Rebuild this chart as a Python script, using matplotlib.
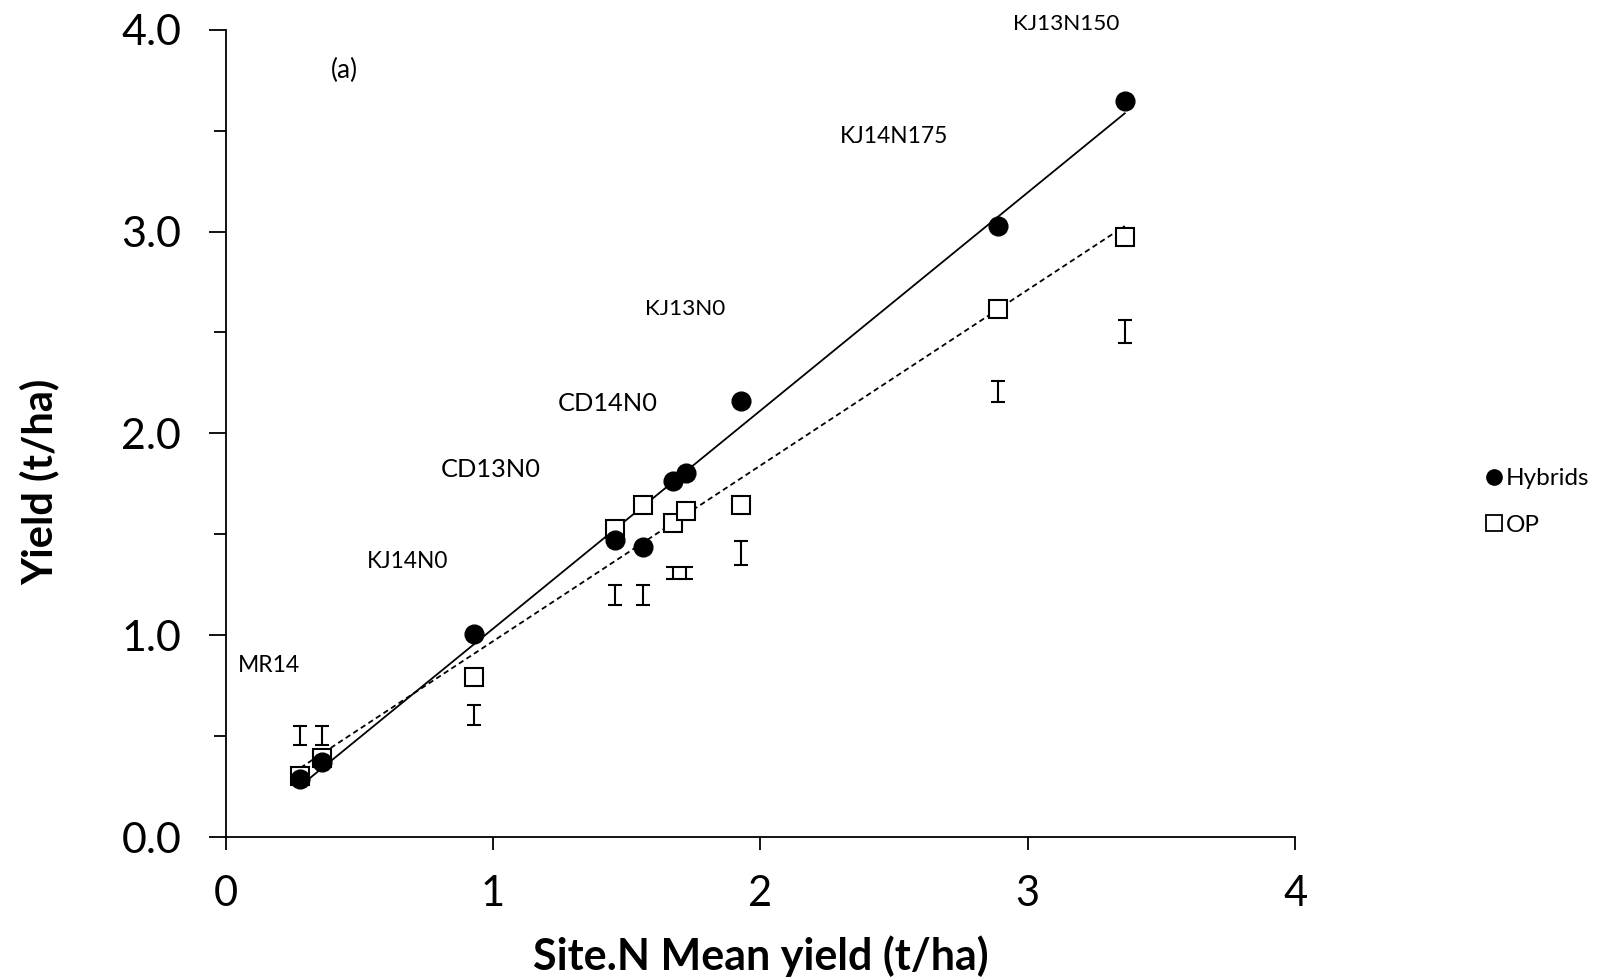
import numpy as np
import matplotlib
matplotlib.use('Agg')
import matplotlib.pyplot as plt
from matplotlib.lines import Line2D

plt.rcParams['font.family'] = ['Lato', 'DejaVu Sans']

# Site.N mean yield (t/ha)
site_mean = [0.28, 0.36, 0.93, 1.457, 1.561, 1.672, 1.722, 1.929, 2.888, 3.363]
hybrids = [0.285, 0.37, 1.006, 1.474, 1.438, 1.764, 1.804, 2.16, 3.029, 3.649]
op = [0.30, 0.39, 0.793, 1.525, 1.647, 1.555, 1.616, 1.647, 2.617, 2.973]

# LSD bars drawn below each site
lsd_centre = [0.503, 0.503, 0.605, 1.20, 1.20, 1.306, 1.306, 1.408, 2.206, 2.506]
lsd_half = [0.046, 0.046, 0.048, 0.05, 0.05, 0.03, 0.03, 0.061, 0.053, 0.058]

# site labels
site_labels = ['MR14', 'KJ14N0', 'CD13N0', 'CD14N0', 'KJ13N0', 'KJ14N175', 'KJ13N150']
label_x = [0.161, 0.679, 0.993, 1.43, 1.718, 2.5, 3.145]
label_y = [0.849, 1.367, 1.82, 2.15, 2.617, 3.47, 4.03]
label_size = [16.5, 16.3, 18.3, 18.3, 16.2, 16.4, 16.2]

x = np.array(site_mean)

fig = plt.figure(figsize=(16.08, 9.8), dpi=100)
ax = fig.add_axes([0.1403, 0.1459, 0.8054 - 0.1403, 0.9697 - 0.1459])

# regression lines
xs = np.array([x.min(), x.max()])
ph = np.polyfit(x, hybrids, 1)
po = np.polyfit(x, op, 1)
ax.plot(xs, np.polyval(ph, xs), color='black', lw=1.3, zorder=2)
ax.plot(xs, np.polyval(po, xs), color='black', lw=1.3, ls=(0, (3, 2)), zorder=2)

ax.plot(x, op, ls='none', marker='s', ms=13, mfc='white', mec='black', mew=1.5, zorder=3)
ax.plot(x, hybrids, ls='none', marker='o', ms=13.5, mfc='black', mec='black', zorder=4)

ax.errorbar(x, lsd_centre, yerr=lsd_half, fmt='none', ecolor='black',
            elinewidth=1.5, capsize=5, capthick=1.5, zorder=3)

for lab, lx, ly, fs in zip(site_labels, label_x, label_y, label_size):
    ax.text(lx, ly, lab, ha='center', va='center', fontsize=fs, clip_on=False)
ax.text(0.445, 3.80, '(a)', ha='center', va='center', fontsize=19)

ax.set_xlim(0, 4)
ax.set_ylim(0, 4)
ax.set_xticks([0, 1, 2, 3, 4])
ax.set_yticks([0, 1, 2, 3, 4])
ax.set_yticklabels(['0.0', '1.0', '2.0', '3.0', '4.0'])
ax.set_yticks([0.5, 1.5, 2.5, 3.5], minor=True)
ax.tick_params(axis='both', which='both', direction='out', width=1.3, color='black')
ax.tick_params(axis='y', which='major', length=12, labelsize=31, pad=20)
ax.tick_params(axis='y', which='minor', length=9)
ax.tick_params(axis='x', which='major', length=9, labelsize=30, pad=18)
for s in ['top', 'right']:
    ax.spines[s].set_visible(False)
for s in ['left', 'bottom']:
    ax.spines[s].set_linewidth(1.3)

ax.set_xlabel('Site.N Mean yield (t/ha)', fontsize=31, fontweight='bold')
ax.set_ylabel('Yield (t/ha)', fontsize=30, fontweight='bold')
ax.xaxis.set_label_coords(0.5, -0.122)
ax.yaxis.set_label_coords(-0.155, 0.44)

handles = [Line2D([], [], ls='none', marker='o', ms=11, mfc='black', mec='black'),
           Line2D([], [], ls='none', marker='s', ms=11, mfc='white', mec='black', mew=1.3)]
ax.legend(handles, ['Hybrids', 'OP'], loc='center left', bbox_to_anchor=(1.17, 0.415),
          frameon=False, fontsize=17.5, handlelength=0.6, handletextpad=0.2,
          labelspacing=1.05, borderaxespad=0)

fig.savefig('out.png', dpi=100)
